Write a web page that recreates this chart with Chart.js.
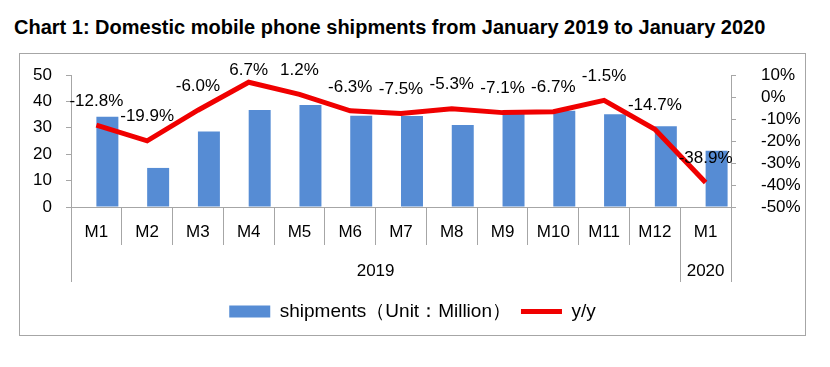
<!DOCTYPE html>
<html>
<head>
<meta charset="utf-8">
<script src="https://cdn.jsdelivr.net/npm/chart.js@4.4.0/dist/chart.umd.min.js"></script>
<style>
  body { margin: 0; background: #fff; width: 830px; height: 367px; position: relative; overflow: hidden; }
  #title { position: absolute; left: 14px; top: 16px; font: bold 20px "Liberation Sans", Arial, sans-serif; color: #000; white-space: nowrap; }
  #frame { position: absolute; left: 19px; top: 53px; width: 785px; height: 281px; border: 1px solid #a6a6a6; }
</style>
</head>
<body>
<div id="title">Chart 1: Domestic mobile phone shipments from January 2019 to January 2020</div>
<div id="frame"><canvas id="myChart" width="785" height="281"></canvas></div>
<script>
// categories
var months = ['M1', 'M2', 'M3', 'M4', 'M5', 'M6', 'M7', 'M8', 'M9', 'M10', 'M11', 'M12', 'M1'];
var years = ['2019', '2020'];
var yearSpans = [12, 1];   // how many months fall under each year label

// series
var shipments = [34.2, 14.8, 28.6, 36.7, 38.6, 34.6, 34.5, 31.1, 35.4, 36.5, 35.1, 30.6, 21.3];
var yoy = [-12.8, -19.9, -6.0, 6.7, 1.2, -6.3, -7.5, -5.3, -7.1, -6.7, -1.5, -14.7, -38.9];

var gray = '#a6a6a6';
var fontFamily = '"Liberation Sans", Arial, sans-serif';
Chart.defaults.font.family = fontFamily;
Chart.defaults.font.size = 17;
Chart.defaults.color = '#000';

// year group boundaries and label centres on the second axis
var bounds = [0];
var yearCenters = [];
yearSpans.forEach(function (n, i) {
    yearCenters.push(bounds[i] + n / 2);
    bounds.push(bounds[i] + n);
});

// labels above the y/y points
var pointLabels = {
    id: 'pointLabels',
    afterDatasetsDraw: function (chart) {
        var ctx = chart.ctx;
        var meta = chart.getDatasetMeta(2);
        var top = chart.chartArea.top;
        ctx.save();
        ctx.font = '17px ' + fontFamily;
        ctx.fillStyle = '#000';
        ctx.textAlign = 'center';
        ctx.textBaseline = 'middle';
        meta.data.forEach(function (pt, i) {
            var y = Math.max(pt.y - 24, top - 5);
            ctx.fillText(yoy[i].toFixed(1) + '%', pt.x, y);
        });
        ctx.restore();
    }
};

// fixed axis widths; keep the tick padding from pushing the plot area down
function fixWidth(w) {
    return function (s) {
        s.width = w;
        s.paddingTop = 10;
        s.paddingBottom = 10;
    };
}

var ctx = document.getElementById('myChart').getContext('2d');
var chart = new Chart(ctx, {
    type: 'bar',
    data: {
        labels: months,
        datasets: [{
            // empty spacer so the bars sit right of the category centre
            data: months.map(function () { return null; }),
            backgroundColor: 'rgba(0,0,0,0)',
            yAxisID: 'y',
            order: 1
        }, {
            label: 'shipments（Unit：Million）',
            data: shipments,
            backgroundColor: 'rgb(86, 140, 212)',
            borderWidth: 0,
            pointStyle: 'rect',
            yAxisID: 'y',
            order: 1
        }, {
            type: 'line',
            label: 'y/y',
            data: yoy,
            borderColor: 'rgb(240, 0, 0)',
            backgroundColor: 'rgb(240, 0, 0)',
            borderWidth: 5,
            pointRadius: 0,
            pointStyle: 'line',
            tension: 0,
            yAxisID: 'y1',
            order: 0
        }]
    },
    options: {
        responsive: false,
        animation: false,
        datasets: {
            bar: { categoryPercentage: 0.866, barPercentage: 1 }
        },
        layout: { padding: { top: 21, bottom: 4, left: 0, right: 0 } },
        plugins: {
            tooltip: { enabled: false },
            legend: {
                position: 'bottom',
                labels: {
                    filter: function (item) { return !!item.text; },
                    sort: function (a, b) { return a.datasetIndex - b.datasetIndex; },
                    usePointStyle: true,
                    pointStyleWidth: 41,
                    boxHeight: 12,
                    padding: 10,
                    font: { size: 19 }
                }
            }
        },
        scales: {
            x: {
                offset: true,
                grid: { offset: true, drawOnChartArea: false, tickLength: 38, color: gray },
                border: { color: gray },
                ticks: { padding: -23, maxRotation: 0, autoSkip: false },
                afterFit: function (s) { s.height = 38; }
            },
            x2: {
                type: 'linear',
                position: 'bottom',
                offset: false,
                min: 0,
                max: bounds[bounds.length - 1],
                afterBuildTicks: function (s) {
                    var vals = bounds.concat(yearCenters).sort(function (a, b) { return a - b; });
                    s.ticks = vals.map(function (v) { return { value: v }; });
                },
                grid: {
                    offset: false,
                    drawOnChartArea: false,
                    tickLength: 37,
                    color: function (c) {
                        return c.tick && bounds.indexOf(c.tick.value) >= 0 ? gray : 'rgba(0,0,0,0)';
                    }
                },
                border: { display: false },
                ticks: {
                    padding: -21,
                    autoSkip: false,
                    maxRotation: 0,
                    callback: function (v) {
                        var i = yearCenters.indexOf(v);
                        return i >= 0 ? years[i] : '';
                    }
                },
                afterFit: function (s) { s.height = 47; }
            },
            y: {
                position: 'left',
                min: 0,
                max: 50,
                ticks: { stepSize: 10, padding: 14, autoSkip: false },
                grid: { drawOnChartArea: false, tickLength: 5, color: gray },
                border: { color: gray },
                afterFit: fixWidth(51)
            },
            y1: {
                position: 'right',
                min: -50,
                max: 10,
                ticks: {
                    stepSize: 10,
                    padding: 25,
                    autoSkip: false,
                    callback: function (v) { return v + '%'; }
                },
                grid: { drawOnChartArea: false, tickLength: 5, color: gray },
                border: { color: gray },
                afterFit: fixWidth(74)
            }
        }
    },
    plugins: [pointLabels]
});
</script>
</body>
</html>
